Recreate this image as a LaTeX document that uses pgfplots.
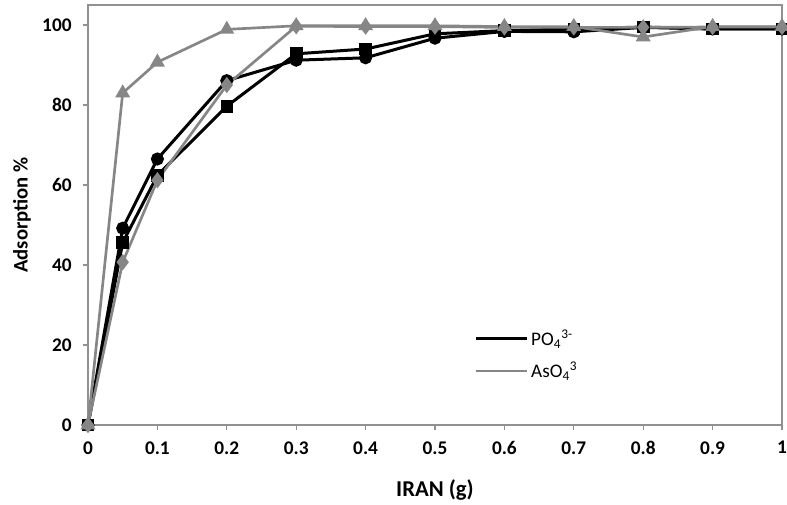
\documentclass[border=0pt]{standalone}
\usepackage{pgfplots}
\pgfplotsset{compat=1.18}
\usepackage{fontspec}
\setmainfont{Carlito}
\definecolor{ser}{RGB}{134,134,134}
\definecolor{frm}{RGB}{145,145,145}
\begin{document}
\begin{tikzpicture}
\path[use as bounding box] (-66pt,-59.25pt) rectangle (524.25pt,318.75pt);
\begin{axis}[
  at={(0,0)}, anchor=south west,
  scale only axis, width=520.5pt, height=315pt,
  xmin=0, xmax=1, ymin=0, ymax=105,
  xtick={0,0.1,0.2,0.3,0.4,0.5,0.6,0.7,0.8,0.9,1},
  xticklabels={0,0.1,0.2,0.3,0.4,0.5,0.6,0.7,0.8,0.9,1},
  ytick={0,20,40,60,80,100},
  tick pos=left, tick align=outside, major tick length=3.75pt,
  axis line style={frm, line width=1.1pt},
  tick style={frm, line width=0.8pt},
  /pgf/number format/assume math mode=true,
  ticklabel style={font=\bfseries\fontsize{14.5}{16}\selectfont},
  xticklabel style={yshift=-5pt},
  yticklabel style={xshift=-5pt},
  xlabel={IRAN (g)}, ylabel={Adsorption \%},
  xlabel style={font=\bfseries\fontsize{17}{19}\selectfont, at={(rel axis cs:0.5,0)}, anchor=center, yshift=-48.75pt},
  ylabel style={font=\bfseries\fontsize{15.5}{18}\selectfont, at={(rel axis cs:0,0.5)}, anchor=center, yshift=49.5pt},
  legend style={at={(rel axis cs:0.559,0.167)}, anchor=west, xshift=-4pt, draw=none, fill=none,
    font=\fontsize{14.4}{16}\selectfont, row sep=7pt},
  legend cell align=left,
  legend image code/.code={\draw[#1] (0pt,0pt) -- (33pt,0pt); \path (0pt,0pt) -- (38pt,0pt);},
  clip=false,
]
\addlegendimage{black, line width=2.25pt}
\addlegendentry{PO\textsubscript{4}\textsuperscript{3-}}
\addlegendimage{ser, line width=2pt}
\addlegendentry{AsO\textsubscript{4}\textsuperscript{3}}
% PO4 circles
\addplot[black, line width=2.25pt, mark=*, mark size=3.75pt, forget plot] coordinates {
(0,0) (0.05,49.2) (0.1,66.5) (0.2,86.1) (0.3,91.2) (0.4,91.8) (0.5,96.7) (0.6,98.4) (0.7,98.3) (0.8,99.4) (0.9,99.0) (1,99.0)};
% PO4 squares
\addplot[black, line width=2.25pt, mark=square*, mark size=3.6pt, forget plot] coordinates {
(0,0) (0.05,45.6) (0.1,62.4) (0.2,79.7) (0.3,92.8) (0.4,94.0) (0.5,97.8) (0.6,98.6) (0.7,99.0) (0.8,99.5) (0.9,99.0) (1,99.0)};
% AsO4 diamonds
\addplot[ser, line width=2pt, mark=diamond*, mark size=4.5pt, forget plot] coordinates {
(0,0) (0.05,40.7) (0.1,61.2) (0.2,85.0) (0.3,99.7) (0.4,99.6) (0.5,99.6) (0.6,99.4) (0.7,99.4) (0.8,99.4) (0.9,99.5) (1,99.5)};
% AsO4 triangles
\addplot[ser, line width=2pt, mark=triangle*, mark size=4.5pt, forget plot] coordinates {
(0,0) (0.05,83.0) (0.1,90.7) (0.2,98.9) (0.3,99.8) (0.4,99.8) (0.5,99.8) (0.6,99.6) (0.7,99.6) (0.8,97.0) (0.9,99.6) (1,99.6)};
\end{axis}
\end{tikzpicture}
\end{document}
